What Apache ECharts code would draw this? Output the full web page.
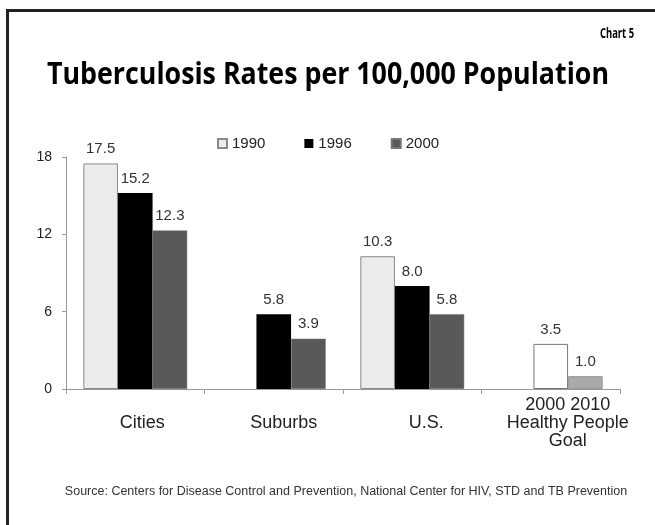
<!DOCTYPE html>
<html>
<head>
<meta charset="utf-8">
<script src="https://cdn.jsdelivr.net/npm/echarts@6/dist/echarts.min.js"></script>
<style>html,body{margin:0;padding:0;background:#fff;}#c{width:655px;height:525px;}</style>
</head>
<body>
<div id="c"></div>
<script>
const categories = ['Cities', 'Suburbs', 'U.S.', '2000 2010\nHealthy People\nGoal'];
const seriesNames = ['1990', '1996', '2000'];
const values1990 = [17.5, null, 10.3, null];
const values1996 = [15.2, 5.8, 8.0, 3.5];
const values2000 = [12.3, 3.9, 5.8, 1.0];
const yTicks = [0, 6, 12, 18];

const titleText = 'Tuberculosis Rates per 100,000 Population';
const chartLabel = 'Chart 5';
const sourceText = 'Source: Centers for Disease Control and Prevention, National Center for HIV, STD and TB Prevention';

// label horizontal nudges (style only), in px to the right of the category centre
const labelShift = [7, 10, 14, 17];

function measure(font, text) {
  const ctx = document.createElement('canvas').getContext('2d');
  ctx.font = font;
  return ctx.measureText(text).width;
}
const titleFont = 'bold 30px "Open Sans"';
const titleScale = 562 / measure(titleFont, titleText);
const chartFont = 'bold 15px "Open Sans"';
const chartScale = 34 / measure(chartFont, chartLabel);

const labelFont = '"Liberation Sans", Arial, sans-serif';
const valueLabel = {
  show: true, position: 'top', distance: 7,
  fontFamily: labelFont, fontSize: 15, color: '#333',
  formatter: p => (p.value == null ? '' : Number(p.value).toFixed(1))
};

const rich = {};
labelShift.forEach((s, i) => {
  rich['s' + i] = {padding: [0, 0, 0, 2 * s], fontFamily: labelFont, fontSize: 18, lineHeight: 18, color: '#222'};
});

const chart = echarts.init(document.getElementById('c'), null, {renderer: 'canvas'});
chart.setOption({
  animation: false,
  backgroundColor: '#fff',
  graphic: [
    {type: 'rect', shape: {x: 7.5, y: 10.5, width: 800, height: 700}, style: {fill: 'none', stroke: '#222', lineWidth: 3}},
    {type: 'text', x: 328, y: 75, scaleX: titleScale, style: {text: titleText, font: titleFont, fill: '#000', textAlign: 'center', textVerticalAlign: 'middle'}},
    {type: 'text', x: 634, y: 34, scaleX: chartScale, style: {text: chartLabel, font: chartFont, fill: '#000', textAlign: 'right', textVerticalAlign: 'middle'}},
    {type: 'text', x: 346, y: 492, style: {text: sourceText, font: '12.5px "Liberation Sans", Arial, sans-serif', fill: '#333', textAlign: 'center', textVerticalAlign: 'middle'}}
  ],
  legend: {
    data: seriesNames,
    left: 217, top: 136, padding: 0,
    itemWidth: 9, itemHeight: 9, itemGap: 39,
    icon: 'rect',
    textStyle: {fontFamily: labelFont, fontSize: 15, color: '#222'}
  },
  grid: {left: 66, right: 35, top: 157, bottom: 136, containLabel: false},
  xAxis: {
    type: 'category',
    data: categories,
    axisLine: {lineStyle: {color: '#999', width: 1}},
    axisTick: {show: true, length: 5, lineStyle: {color: '#999'}},
    axisLabel: {
      interval: 0, margin: 34, verticalAlign: 'middle', lineHeight: 18,
      fontFamily: labelFont, fontSize: 18, color: '#222',
      formatter: (val, idx) => val.split('\n').map(l => '{s' + idx + '|' + l + '}').join('\n'),
      rich: rich
    }
  },
  yAxis: {
    type: 'value', min: yTicks[0], max: yTicks[yTicks.length - 1], interval: 6,
    axisLine: {show: true, lineStyle: {color: '#999'}},
    axisTick: {show: true, length: 4, lineStyle: {color: '#999'}},
    splitLine: {show: false},
    axisLabel: {margin: 14, fontFamily: labelFont, fontSize: 14, color: '#222'}
  },
  series: [
    {
      name: seriesNames[0], type: 'bar', data: values1990,
      barGap: '0%', barCategoryGap: '25%',
      itemStyle: {color: '#ececec', borderColor: '#8a8a8a', borderWidth: 1},
      label: valueLabel
    },
    {
      name: seriesNames[1], type: 'bar',
      data: values1996.map((v, i) => i === 3 ? {value: v, itemStyle: {color: '#ffffff', borderColor: '#777', borderWidth: 1}} : v),
      barGap: '0%', barCategoryGap: '25%',
      itemStyle: {color: '#000000'},
      label: valueLabel
    },
    {
      name: seriesNames[2], type: 'bar',
      data: values2000.map((v, i) => i === 3 ? {value: v, itemStyle: {color: '#aaaaaa', borderColor: '#999', borderWidth: 1}} : v),
      barGap: '0%', barCategoryGap: '25%',
      itemStyle: {color: '#595959', borderColor: '#777', borderWidth: 0.5},
      label: valueLabel
    }
  ]
});
</script>
</body>
</html>
